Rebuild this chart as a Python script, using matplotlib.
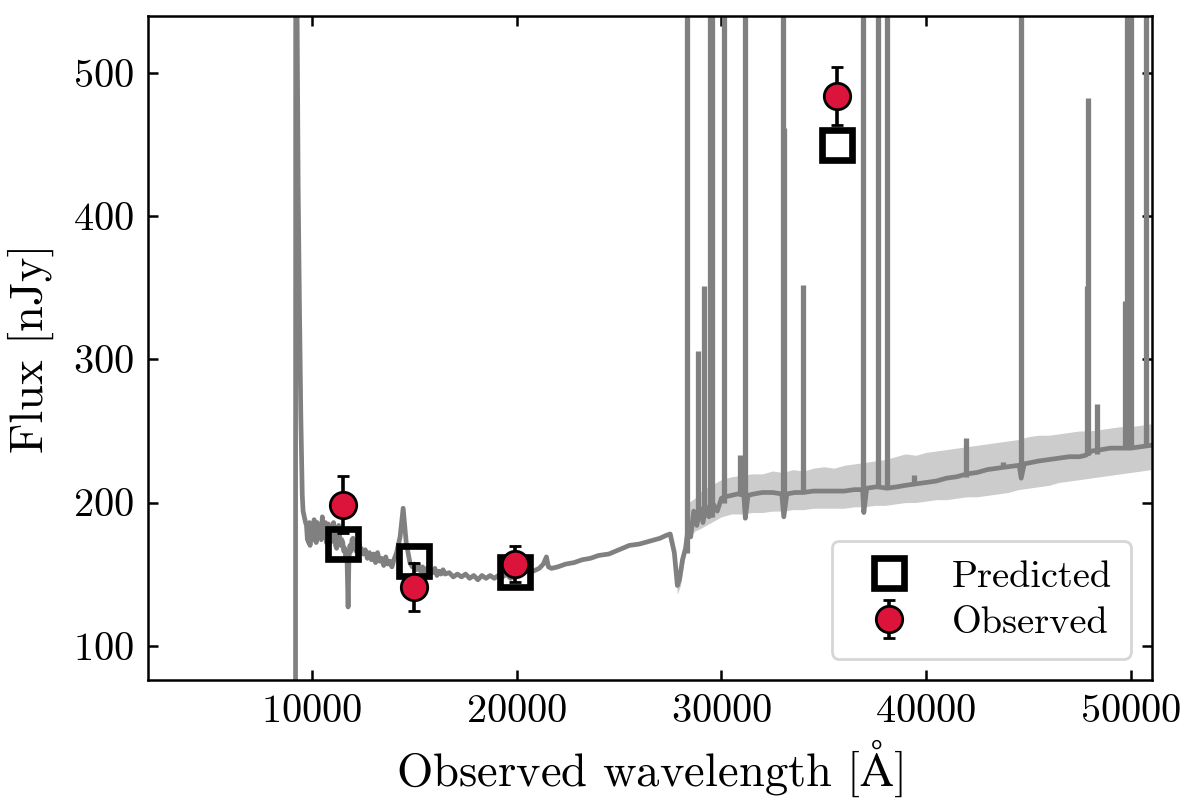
import numpy as np
import matplotlib
matplotlib.use("Agg")
import matplotlib.pyplot as plt

plt.rcParams['font.family'] = 'serif'
plt.rcParams['font.serif'] = ['cmr10']
plt.rcParams['mathtext.fontset'] = 'cm'
plt.rcParams['axes.formatter.use_mathtext'] = True
plt.rcParams['axes.unicode_minus'] = False

# ---------------- data ----------------
# continuum polyline of the model spectrum (wavelength [A], flux [nJy])
spec_wave = [2000, 9190, 9205, 9240, 9260, 9320, 9380, 9450, 9520, 9560, 9620, 9680,
             9726, 9770, 9800, 9830, 9870, 9900, 9940, 9970, 10000, 10050, 10100,
             10150, 10200, 10250, 10300, 10350, 10400, 10450, 10500, 10550, 10600,
             10650, 10700, 10750, 10800, 10850, 10900, 10950, 11000, 11050, 11100,
             11150, 11200, 11250, 11300, 11350, 11400, 11450, 11500, 11550, 11600,
             11650, 11700, 11760, 11800, 11850, 11900, 11950, 12000, 12050, 12100,
             12150, 12200, 12250, 12300, 12350, 12400, 12500, 12600, 12700, 12800,
             12900, 13000, 13100, 13200, 13300, 13400, 13500, 13600, 13700, 13800,
             13900, 14000, 14130, 14300, 14450, 14600, 14780, 14900, 15000, 15100,
             15200, 15300, 15400, 15500, 15600, 15700, 15800, 15900, 16000, 16100,
             16200, 16300, 16400, 16500, 16700, 16900, 17100, 17300, 17500, 17700,
             17900, 18100, 18300, 18500, 18700, 18900, 19100, 19300, 19500, 19700,
             19900, 20100, 20300, 20500, 20800, 21100, 21300, 21450, 21550, 21700,
             22000, 22400, 22800, 23200, 23600, 24000, 24500, 25000, 25500, 26000,
             26500, 27000, 27300, 27500, 27700, 27850, 27950, 28100, 28250, 28400,
             28500, 28650, 28800, 28950, 29100, 29250, 29400, 29600, 29800, 30000,
             30200, 30500, 30800, 31100, 31170, 31300, 31600, 32000, 32500, 32950,
             33050, 33200, 33600, 34000, 34500, 35000, 35500, 36000, 36500, 36900,
             36960, 37100, 37600, 38100, 38600, 39000, 39500, 40000, 40500, 41000,
             41500, 42000, 42500, 43000, 43500, 44000, 44550, 44650, 44800, 45500,
             46000, 46500, 47000, 47500, 47800, 48100, 48600, 49000, 49500, 50000,
             50500, 51000]
spec_flux = [0, 0, 900, 1400, 560, 420, 340, 260, 205, 194, 190, 186,
             184, 174, 182, 172, 186, 170, 182, 176, 180, 174, 188,
             178, 172, 186, 180, 176, 184, 174, 190, 182, 178,
             186, 172, 180, 185, 176, 172, 182, 178, 186, 177,
             170, 168, 180, 184, 176, 170, 174, 172, 166, 168,
             162, 165, 127, 160, 170, 166, 174, 175, 168, 173,
             166, 170, 165, 172, 166, 168, 164, 167, 161, 165,
             160, 164, 158, 165, 159, 161, 156, 162, 157, 159,
             155, 160, 165, 176, 196, 172, 158, 155, 157, 153,
             156, 152, 155, 151, 154, 150, 153, 151, 154, 149,
             152, 150, 153, 150, 151, 148, 150, 148, 150, 147,
             149, 146, 149, 147, 149, 147, 149, 148, 150, 147,
             149, 150, 151, 152, 152, 154, 157, 162, 155, 154,
             155, 157, 158, 160, 161, 163, 164, 167, 170, 171,
             173, 175, 177, 178, 165, 142, 146, 160, 168, 185,
             176, 194, 184, 196, 186, 197, 190, 199, 194, 203,
             204, 205, 206, 205, 189, 205, 206, 207, 207, 206,
             190, 206, 207, 207, 208, 208, 208, 208, 209, 209,
             193, 210, 211, 210, 211, 212, 213, 214, 215, 217,
             218, 220, 221, 223, 224, 225, 226, 217, 227, 229,
             230, 231, 232, 232, 233, 236, 237, 238, 238, 238,
             239, 240]

# emission lines: wavelength, base flux, peak flux (lines beyond the frame use 1000)
line_wave = [28317, 28836, 29130, 29420, 29540, 30140, 30925, 31170, 32990, 33050,
             33970, 36930, 37640, 38070, 39430, 41930, 43780, 44620, 47880, 47920,
             48340, 49700, 49800, 50000, 50740]
line_base = [165, 190, 190, 190, 190, 200, 205, 205, 206, 206,
             207, 208, 210, 210, 212, 218, 224, 226, 233, 233,
             234, 238, 238, 238, 239]
line_peak = [1000, 306, 351, 1000, 1000, 1000, 233, 1000, 1000, 462,
             352, 1000, 1000, 1000, 219, 245, 228, 1000, 351, 483,
             269, 341, 1000, 1000, 1000]

# uncertainty band of the model spectrum
band_wave = [27400, 27700, 27850, 28000, 28200, 28400, 28700, 29000, 29500, 30000,
             30500, 31000, 31500, 32000, 32500, 33000, 33500, 34000, 34500, 35000,
             35500, 36000, 36500, 37000, 37500, 38000, 38500, 39000, 39500, 40000,
             40500, 41000, 41500, 42000, 42500, 43000, 43500, 44000, 44500, 45000,
             45500, 46000, 46500, 47000, 47500, 48000, 48500, 49000, 49500, 50000,
             50500, 51000]
band_lo = [175, 160, 136, 142, 160, 175, 180, 182, 186, 190,
           192, 192, 193, 193, 194, 194, 195, 195, 196, 196,
           196, 196, 197, 197, 198, 198, 199, 200, 200, 201,
           202, 202, 203, 204, 204, 205, 206, 207, 209, 210,
           211, 212, 214, 215, 216, 217, 218, 219, 220, 221,
           222, 223]
band_hi = [180, 170, 148, 152, 170, 200, 203, 208, 212, 216,
           218, 219, 220, 220, 222, 221, 223, 222, 224, 225,
           224, 226, 227, 228, 229, 230, 232, 234, 233, 235,
           236, 237, 238, 239, 240, 241, 242, 243, 244, 246,
           247, 247, 248, 249, 250, 250, 251, 252, 253, 253,
           254, 255]

# photometry
filt_wave = [11500, 15000, 19900, 35650]
obs_flux = [198.5, 141, 157, 484]
obs_err = [20, 16.5, 12.5, 20]
pred_flux = [171, 159, 151.5, 450]

# ---------------- figure ----------------
fig = plt.figure(figsize=(6, 3.995), dpi=200)
ax = fig.add_axes([0.1233, 0.149, 0.8365, 0.831])

ax.fill_between(band_wave, band_lo, band_hi, color='#cccccc', lw=0, zorder=1)
ax.plot(spec_wave, spec_flux, color='gray', lw=1.7, zorder=2)
ax.vlines(line_wave, line_base, line_peak, color='gray', lw=1.9, zorder=2)

ax.plot(filt_wave, pred_flux, 's', ms=10.5, mfc='none', mec='k', mew=2.4,
        zorder=4, label='Predicted')
ax.errorbar(filt_wave, obs_flux, yerr=obs_err, fmt='o', ms=9.5, mfc='crimson',
            mec='k', mew=1.0, ecolor='k', elinewidth=1.3, capsize=2.3,
            capthick=1.3, zorder=5, label='Observed')

ax.set_xlim(1980, 51030)
ax.set_ylim(76, 540)
ax.set_xticks([10000, 20000, 30000, 40000, 50000])
ax.set_yticks([100, 200, 300, 400, 500])
ax.tick_params(direction='in', top=True, right=True, labelsize=14.5,
               length=3.5, width=0.9, pad=5)
for s in ax.spines.values():
    s.set_linewidth(0.9)

ax.set_xlabel(r'Observed wavelength [$\mathrm{\AA}$]', fontsize=16.8, labelpad=3)
ax.set_ylabel('Flux [nJy]', fontsize=16.8, labelpad=7)

leg = ax.legend(loc='lower right', fontsize=13.8, labelspacing=0.32,
                handletextpad=0.62, borderpad=0.5, borderaxespad=0.55)

fig.savefig('out.png', dpi=200)
